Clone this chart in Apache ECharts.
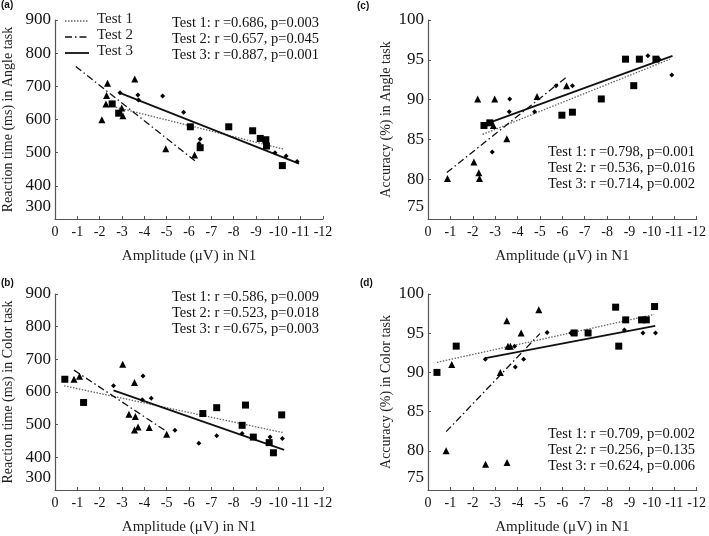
<!DOCTYPE html>
<html>
<head>
<meta charset="utf-8">
<script src="https://cdn.jsdelivr.net/npm/echarts@6/dist/echarts.min.js"></script>
<style>html,body{margin:0;padding:0;background:#fff;}#c{width:709px;height:536px;}</style>
</head>
<body>
<div id="c"></div>
<script>
// ---------- data (x = N1 amplitude in µV, y = measure) ----------
const xTicks = [0,-1,-2,-3,-4,-5,-6,-7,-8,-9,-10,-11,-12];
const legendNames = ['Test 1','Test 2','Test 3'];

// (a) Reaction time, Angle task
const angleRT_test1 = [[-2.56,647],[-2.85,619],[-6.06,578],[-6.5,515],[-7.78,578],[-8.85,566],[-9.19,543],[-9.44,539],[-9.47,520],[-10.18,461]];
const angleRT_test2 = [[-2.35,709],[-2.31,672],[-2.28,647],[-2.1,599],[-2.99,635],[-3.04,611],[-3.57,722],[-4.96,512],[-6.25,493]];
const angleRT_test3 = [[-2.91,681],[-3.71,674],[-3.74,659],[-4.82,671],[-5.76,622],[-6.45,528],[-6.5,541],[-9.85,500],[-10.35,490],[-10.84,473]];
const angleRT_fit1 = [[-2.72,637],[-10.22,511]];
const angleRT_fit2 = [[-0.93,760],[-6.29,474]];
const angleRT_fit3 = [[-2.87,681],[-10.93,467]];
const angleRT_stats = ['Test 1: r =0.686, p=0.003','Test 2: r =0.657, p=0.045','Test 3: r =0.887, p=0.001'];

// (b) Reaction time, Color task
const colorRT_test1 = [[-0.44,639],[-1.28,568],[-6.62,534],[-7.24,552],[-8.38,498],[-8.53,560],[-8.88,462],[-9.59,445],[-9.78,414],[-10.15,530]];
const colorRT_test2 = [[-0.85,639],[-1.1,648],[-3.03,685],[-3.31,532],[-3.56,629],[-3.6,525],[-3.56,484],[-3.72,493],[-4.22,491],[-5.0,471]];
const colorRT_test3 = [[-2.62,619],[-3.94,649],[-3.91,576],[-4.31,581],[-5.37,483],[-6.44,443],[-7.24,466],[-8.38,473],[-9.63,462],[-10.18,458]];
const colorRT_fit1 = [[-0.41,619],[-10.19,476]];
const colorRT_fit2 = [[-0.85,667],[-5.0,479]];
const colorRT_fit3 = [[-2.62,605],[-10.26,423]];
const colorRT_stats = ['Test 1: r =0.586, p=0.009','Test 2: r =0.523, p=0.018','Test 3: r =0.675, p=0.003'];

// (c) Accuracy, Angle task
const angleAcc_test1 = [[-2.5,86.75],[-2.76,87.08],[-5.98,88.04],[-6.45,88.42],[-7.74,90.08],[-8.82,95.08],[-9.44,95.08],[-9.19,91.75],[-10.18,95.08]];
const angleAcc_test2 = [[-0.87,80.08],[-2.05,82.17],[-2.27,80.8],[-2.3,80.08],[-2.22,90.08],[-2.98,90.08],[-2.92,86.75],[-3.52,85.08],[-4.87,90.4],[-6.19,91.75]];
const angleAcc_test3 = [[-2.87,83.42],[-3.65,90.08],[-3.63,88.46],[-4.76,88.46],[-5.72,91.75],[-6.45,91.75],[-9.82,95.5],[-10.32,95.08],[-10.89,93.1]];
const angleAcc_fit1 = [[-2.44,85.63],[-10.81,95.08]];
const angleAcc_fit2 = [[-0.84,80.83],[-6.23,92.92]];
const angleAcc_fit3 = [[-2.81,87.17],[-10.92,95.5]];
const angleAcc_stats = ['Test 1: r =0.798, p=0.001','Test 2: r =0.536, p=0.016','Test 3: r =0.714, p=0.002'];

// (d) Accuracy, Color task
const colorAcc_test1 = [[-0.4,90],[-1.26,93.35],[-6.53,95.03],[-7.15,95.03],[-8.38,98.32],[-8.52,93.35],[-8.83,96.7],[-9.54,96.7],[-9.75,96.7],[-10.12,98.4]];
const colorAcc_test2 = [[-0.81,80],[-1.06,91],[-2.57,78.3],[-3.23,90],[-3.52,96.6],[-3.57,93.35],[-3.68,93.35],[-4.16,95.04],[-4.95,98],[-3.53,78.5]];
const colorAcc_test3 = [[-2.56,91.67],[-3.87,93.35],[-3.9,90.7],[-4.27,91.67],[-5.32,95.1],[-6.38,95.03],[-8.77,95.4],[-9.6,95.04],[-10.16,95.04]];
const colorAcc_fit1 = [[-0.4,91.28],[-10.1,97.39]];
const colorAcc_fit2 = [[-0.81,82.44],[-5.0,94.95]];
const colorAcc_fit3 = [[-2.57,91.83],[-10.15,95.92]];
const colorAcc_stats = ['Test 1: r =0.709, p=0.002','Test 2: r =0.256, p=0.135','Test 3: r =0.624, p=0.006'];

// ---------- chart ----------
const SERIF = '"Liberation Serif","Times New Roman",serif';
const chart = echarts.init(document.getElementById('c'));

const STYLE1 = {color:'#666',width:1.3,type:[1.5,1.5]};
const STYLE2 = {color:'#111',width:1.3,type:[7,3,1.5,3]};
const STYLE3 = {color:'#111',width:1.8,type:'solid'};

const panels = [
  {grid:{left:51,top:20,width:272,height:199}, yMin:300,yMax:900,yInt:100, yName:'Reaction time (ms) in Angle task', gap:40,
   t1:angleRT_test1,t2:angleRT_test2,t3:angleRT_test3,f1:angleRT_fit1,f2:angleRT_fit2,f3:angleRT_fit3},
  {grid:{left:428,top:20,width:270,height:199}, yMin:75,yMax:100,yInt:5, yName:'Accuracy (%) in Angle task', gap:35,
   t1:angleAcc_test1,t2:angleAcc_test2,t3:angleAcc_test3,f1:angleAcc_fit1,f2:angleAcc_fit2,f3:angleAcc_fit3},
  {grid:{left:51,top:294,width:272,height:197}, yMin:300,yMax:900,yInt:100, yName:'Reaction time (ms) in Color task', gap:40,
   t1:colorRT_test1,t2:colorRT_test2,t3:colorRT_test3,f1:colorRT_fit1,f2:colorRT_fit2,f3:colorRT_fit3},
  {grid:{left:428,top:294,width:270,height:197}, yMin:75,yMax:100,yInt:5, yName:'Accuracy (%) in Color task', gap:35,
   t1:colorAcc_test1,t2:colorAcc_test2,t3:colorAcc_test3,f1:colorAcc_fit1,f2:colorAcc_fit2,f3:colorAcc_fit3}
];

const grids=[],xAxes=[],yAxes=[],series=[];
const axisCol = '#555';
panels.forEach((p,i)=>{
  grids.push(p.grid);
  xAxes.push({type:'value',gridIndex:i,min:-12,max:0,interval:1,inverse:true,
    name:'Amplitude (\u03bcV) in N1',nameLocation:'middle',nameGap:30,
    nameTextStyle:{fontFamily:SERIF,fontSize:15,color:'#222'},
    axisLine:{lineStyle:{color:axisCol,width:1.2}},
    axisTick:{inside:true,length:3,lineStyle:{color:axisCol}},
    axisLabel:{fontFamily:SERIF,fontSize:14,color:'#111',margin:6,
      formatter:(v)=> String(xTicks[Math.round(-v)])},
    splitLine:{show:false}});
  yAxes.push({type:'value',gridIndex:i,min:p.yMin,max:p.yMax,interval:p.yInt,
    name:p.yName,nameLocation:'middle',nameGap:p.gap,
    nameTextStyle:{fontFamily:SERIF,fontSize:14,color:'#222'},
    axisLine:{lineStyle:{color:axisCol,width:1.2}},
    axisTick:{inside:true,length:3,lineStyle:{color:axisCol}},
    axisLabel:{fontFamily:SERIF,fontSize:17,color:'#111',margin:4,
      formatter:(v)=> v===p.yMin ? '{lo|'+v+'}' : String(v),
      rich:{lo:{fontFamily:SERIF,fontSize:17,color:'#111',padding:[0,0,24,0]}}},
    splitLine:{show:false}});
  const sc = (data,sym,size,name)=>({type:'scatter',name:name,xAxisIndex:i,yAxisIndex:i,data:data,symbol:sym,symbolSize:size,
    itemStyle:{color:'#000',opacity:1},silent:true,z:3});
  series.push(sc(p.t1,'rect',7,'p'+i+'s1'));
  series.push(sc(p.t2,'triangle',7,'p'+i+'s2'));
  series.push(sc(p.t3,'diamond',5,'p'+i+'s3'));
  const ln = (data,style,name)=>({type:'line',name:name,xAxisIndex:i,yAxisIndex:i,data:data,symbol:'none',
    lineStyle:style,itemStyle:{color:style.color},silent:true,z:2});
  series.push(ln(p.f1,STYLE1,'p'+i+'l1'));
  series.push(ln(p.f2,STYLE2,'p'+i+'l2'));
  series.push(ln(p.f3,STYLE3,'p'+i+'l3'));
});

function statText(lines,x,y){
  return lines.map((t,k)=>({type:'text',left:x,top:y+k*16,
    style:{text:t,font:'14.5px '+SERIF,fill:'#111'}}));
}
function panelLabel(t,x,y){
  return {type:'text',left:x,top:y,style:{text:t,font:'bold 10px "Liberation Sans",Arial,sans-serif',fill:'#111'}};
}
function legendItems(){
  const styles=[STYLE1,STYLE2,STYLE3], ys=[21,37,53], out=[];
  legendNames.forEach((n,k)=>{
    const s=styles[k];
    out.push({type:'line',shape:{x1:65,y1:ys[k],x2:89,y2:ys[k]},
      style:{stroke:s.color,lineWidth:s.width,lineDash:Array.isArray(s.type)?s.type:null}});
    out.push({type:'text',left:97,top:ys[k]-9,style:{text:n,font:'15px '+SERIF,fill:'#222'}});
  });
  return out;
}

chart.setOption({
  animation:false,
  grid:grids,xAxis:xAxes,yAxis:yAxes,series:series,
  graphic:[].concat(
    legendItems(),
    statText(angleRT_stats,172,16),
    statText(angleAcc_stats,548,145),
    statText(colorRT_stats,172,290),
    statText(colorAcc_stats,548,427),
    [panelLabel('(a)',1,0),panelLabel('(c)',357,1),panelLabel('(b)',1,278),panelLabel('(d)',360,278)]
  )
});
</script>
</body>
</html>
